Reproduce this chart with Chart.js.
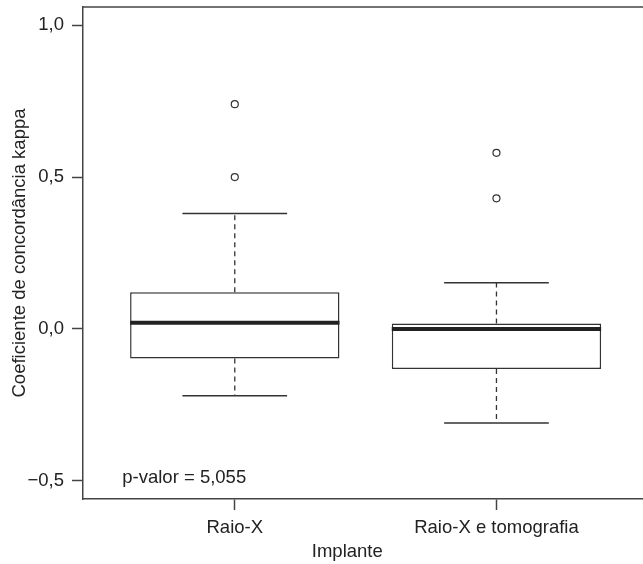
<!DOCTYPE html>
<html>
<head>
<meta charset="utf-8">
<script src="https://cdn.jsdelivr.net/npm/chart.js@4/dist/chart.umd.min.js"></script>
<style>
  html, body { margin: 0; padding: 0; background: #fff; }
  #wrap { width: 643px; height: 564px; }
</style>
</head>
<body>
<div id="wrap"><canvas id="chart"></canvas></div>
<script>
// box plot values
const categories = ['Raio-X', 'Raio-X e tomografia'];
const whiskerLow = [-0.22, -0.31];
const q1 = [-0.097, -0.132];
const medians = [0.02, 0.0];
const q3 = [0.121, 0.018];
const whiskerHigh = [0.38, 0.152];
const outliers = [[0.74, 0.50], [0.58, 0.43]];
const yTicks = [-0.5, 0, 0.5, 1.0];
const pValueText = 'p-valor = 5,055';
const xTitle = 'Implante';

const ink = '#333';
const textInk = '#222';
const fontStr = "18.5px 'Liberation Sans', Arial, sans-serif";
const positions = categories.map((c, i) => i + 1);

Chart.defaults.font.family = "'Liberation Sans', Arial, sans-serif";
Chart.defaults.font.size = 18.5;
Chart.defaults.color = textInk;

const boxData = positions.map((x, i) => ({ x: x, y: [q1[i], q3[i]] }));
const outlierData = [];
outliers.forEach((vals, i) => {
  vals.forEach(v => outlierData.push({ x: positions[i], y: v }));
});

function fmt(v) {
  let s = v.toFixed(1).replace('.', ',');
  return s.replace('-', '\u2212');
}

// whiskers, caps, medians, frame top and the loose texts
const boxplotExtras = {
  id: 'boxplotExtras',
  afterDatasetsDraw(chart) {
    const ctx = chart.ctx;
    const xs = chart.scales.x, ys = chart.scales.y;
    const area = chart.chartArea;
    ctx.save();
    ctx.strokeStyle = ink;
    positions.forEach((p, i) => {
      const cx = xs.getPixelForValue(p);
      const capL = xs.getPixelForValue(p - 0.2);
      const capR = xs.getPixelForValue(p + 0.2);
      const boxL = xs.getPixelForValue(p - 0.4);
      const boxR = xs.getPixelForValue(p + 0.4);
      // dashed whiskers
      ctx.lineWidth = 1.3;
      ctx.setLineDash([5, 4]);
      ctx.beginPath();
      ctx.moveTo(cx, ys.getPixelForValue(q3[i]));
      ctx.lineTo(cx, ys.getPixelForValue(whiskerHigh[i]));
      ctx.moveTo(cx, ys.getPixelForValue(q1[i]));
      ctx.lineTo(cx, ys.getPixelForValue(whiskerLow[i]));
      ctx.stroke();
      // caps
      ctx.setLineDash([]);
      ctx.lineWidth = 1.5;
      ctx.beginPath();
      ctx.moveTo(capL, ys.getPixelForValue(whiskerHigh[i]));
      ctx.lineTo(capR, ys.getPixelForValue(whiskerHigh[i]));
      ctx.moveTo(capL, ys.getPixelForValue(whiskerLow[i]));
      ctx.lineTo(capR, ys.getPixelForValue(whiskerLow[i]));
      ctx.stroke();
      // median
      ctx.lineWidth = 4;
      ctx.strokeStyle = '#222';
      ctx.beginPath();
      ctx.moveTo(boxL, ys.getPixelForValue(medians[i]));
      ctx.lineTo(boxR, ys.getPixelForValue(medians[i]));
      ctx.stroke();
      ctx.strokeStyle = ink;
    });
    // top of the frame
    ctx.lineWidth = 1.5;
    ctx.strokeStyle = '#444';
    ctx.beginPath();
    ctx.moveTo(area.left, area.top);
    ctx.lineTo(area.right, area.top);
    ctx.stroke();
    // p-value note
    ctx.fillStyle = textInk;
    ctx.font = fontStr;
    ctx.textBaseline = 'middle';
    ctx.textAlign = 'left';
    ctx.fillText(pValueText, xs.getPixelForValue(0.57), ys.getPixelForValue(-0.49));
    // x axis title
    ctx.textAlign = 'center';
    ctx.fillText(xTitle, xs.getPixelForValue(1.43), xs.bottom - 12);
    ctx.restore();
  }
};

new Chart(document.getElementById('chart'), {
  data: {
    datasets: [
      {
        type: 'bar',
        data: boxData,
        backgroundColor: '#fff',
        borderColor: ink,
        borderWidth: 1.5,
        borderSkipped: false,
        barPercentage: 0.8,
        categoryPercentage: 1
      },
      {
        type: 'scatter',
        data: outlierData,
        pointStyle: 'circle',
        pointRadius: 3.5,
        pointBorderWidth: 1.2,
        pointBorderColor: ink,
        pointBackgroundColor: '#fff'
      }
    ]
  },
  options: {
    responsive: true,
    maintainAspectRatio: false,
    animation: false,
    layout: { autoPadding: false, padding: { top: 7, right: 0, bottom: 0, left: 0 } },
    plugins: { legend: { display: false }, tooltip: { enabled: false } },
    scales: {
      x: {
        type: 'linear',
        min: 0.42,
        max: 2.56,
        offset: false,
        afterBuildTicks: (axis) => { axis.ticks = positions.map(v => ({ value: v })); },
        afterFit: (axis) => {
          axis.height = 65;
          axis.paddingLeft = 0;
          axis.paddingRight = 0;
        },
        ticks: {
          callback: (v) => categories[Math.round(v) - 1],
          padding: 7,
          color: textInk
        },
        grid: {
          drawOnChartArea: false,
          drawTicks: true,
          tickLength: 11,
          tickColor: '#444',
          tickWidth: 1.5,
          offset: false
        },
        border: { display: true, color: '#444', width: 1.5 }
      },
      y: {
        type: 'linear',
        min: -0.56,
        max: 1.06,
        afterBuildTicks: (axis) => { axis.ticks = yTicks.map(v => ({ value: v })); },
        afterFit: (axis) => {
          axis.width = 83;
          axis.paddingTop = 0;
          axis.paddingBottom = 0;
        },
        ticks: {
          callback: (v) => fmt(v),
          padding: 8,
          color: textInk
        },
        grid: {
          drawOnChartArea: false,
          drawTicks: true,
          tickLength: 11,
          tickColor: '#444',
          tickWidth: 1.5
        },
        border: { display: true, color: '#444', width: 1.5 },
        title: {
          display: true,
          text: 'Coeficiente de concordância kappa',
          color: textInk,
          padding: { top: 9, bottom: 0 }
        }
      }
    }
  },
  plugins: [boxplotExtras]
});
</script>
</body>
</html>
